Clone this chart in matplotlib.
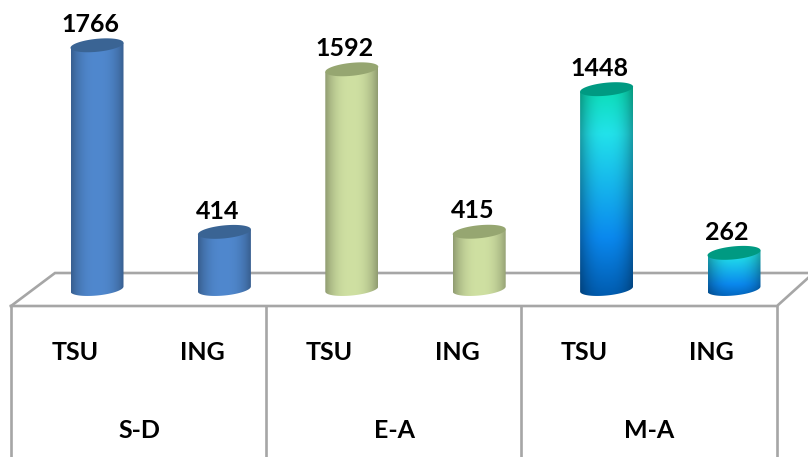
import numpy as np
import matplotlib
matplotlib.use('Agg')
from matplotlib import pyplot as plt
from matplotlib.patches import PathPatch
from matplotlib.path import Path

groups = ['S-D', 'E-A', 'M-A']
bar_labels = ['TSU', 'ING', 'TSU', 'ING', 'TSU', 'ING']
values = [1766, 414, 1592, 415, 1448, 262]
bar_group = [0, 0, 1, 1, 2, 2]

W, H = 808, 457
plt.rcParams['font.family'] = ['Lato', 'DejaVu Sans']

# scale of the picture: px per unit and where zero sits
px_unit = 0.138
zero_px = 289
slot_px = 127.4
first_px = 97

fig = plt.figure(figsize=(W / 100, H / 100), dpi=100)

# table in plain pixel coords, under the bars
bg = fig.add_axes([0, 0, 1, 1])
bg.set_xlim(0, W)
bg.set_ylim(H, 0)
bg.axis('off')
grey = '#a6a6a6'
for xs, ys in [([11, 55, W], [306, 273, 273]), ([11, 777, W], [306, 306, 278]),
               ([11, 11], [306, H]), ([266, 266], [306, H]),
               ([521, 521], [306, H]), ([777, 777], [306, H])]:
    bg.plot(xs, ys, color=grey, lw=1.9, solid_joinstyle='miter')

# bars in data coords: x = slot number, y = value
ax = fig.add_axes([0, 0, 1, 1], facecolor='none')
ax.axis('off')

half_w = 26.5 / slot_px
rad = 6.5 / px_unit
tilt = 2.5 / px_unit


def shade(n):
    # dark at the sides, light in the middle
    u = np.linspace(-1, 1, n)
    return 1 - 0.3 * np.abs(u) ** 2.5


def hex_rgb(c):
    return np.array(matplotlib.colors.to_rgb(c))


def bar_image(group):
    if group == 0:
        grad = np.tile(hex_rgb('#5088ce'), (64, 1))
    elif group == 1:
        grad = np.tile(hex_rgb('#cfe0a2'), (64, 1))
    else:
        stops = [0, 0.25, 0.72, 1]
        cols = np.array([hex_rgb(c) for c in ['#06dcaa', '#22e2ea', '#0a88ee', '#0058aa']])
        t = np.linspace(0, 1, 64)
        grad = np.stack([np.interp(t, stops, cols[:, i]) for i in range(3)], axis=1)
    s = shade(64)[None, :, None]
    return np.clip(grad[:, None, :] * s, 0, 1)


top_cols = ['#3a6494', '#96a671', '#009a82']

for i, v in enumerate(values):
    t = np.linspace(np.pi, 2 * np.pi, 40)
    low_x = i + half_w * np.cos(t)
    low_y = rad * np.sin(t) + tilt * np.cos(t)
    verts = [(i - half_w, v - tilt)] + list(zip(low_x, low_y)) + [(i + half_w, v + tilt), (i - half_w, v - tilt)]
    codes = [Path.MOVETO] + [Path.LINETO] * (len(verts) - 2) + [Path.CLOSEPOLY]
    clip = PathPatch(Path(verts, codes), transform=ax.transData, fc='none', ec='none')
    ax.add_patch(clip)
    im = ax.imshow(bar_image(bar_group[i]), extent=[i - half_w, i + half_w, -2 * rad, v + 2 * rad],
                   aspect='auto', origin='upper', interpolation='bilinear', zorder=2)
    im.set_clip_path(clip)

    t = np.linspace(0, 2 * np.pi, 80)
    ax.fill(i + half_w * np.cos(t), v + rad * np.sin(t) + tilt * np.cos(t),
            color=top_cols[bar_group[i]], lw=0, zorder=3)

    ax.annotate(str(v), (i, v), xytext=(-5, 15), textcoords='offset points', ha='center', va='center',
                fontsize=18, fontweight='bold', color='black', zorder=4)
    ax.annotate(bar_labels[i], (i, 0), xytext=(-16, -46), textcoords='offset points', ha='center', va='center',
                fontsize=18, fontweight='bold', color='black')

ax.set_xlim(-first_px / slot_px, (W - first_px) / slot_px)
ax.set_ylim((zero_px - H) / px_unit, zero_px / px_unit)

for g, name in enumerate(groups):
    bg.text(11 + 255 * (g + 0.5) + 1, 430, name, ha='center', va='center',
            fontsize=18, fontweight='bold', color='black')

fig.savefig('out.png', dpi=100)
